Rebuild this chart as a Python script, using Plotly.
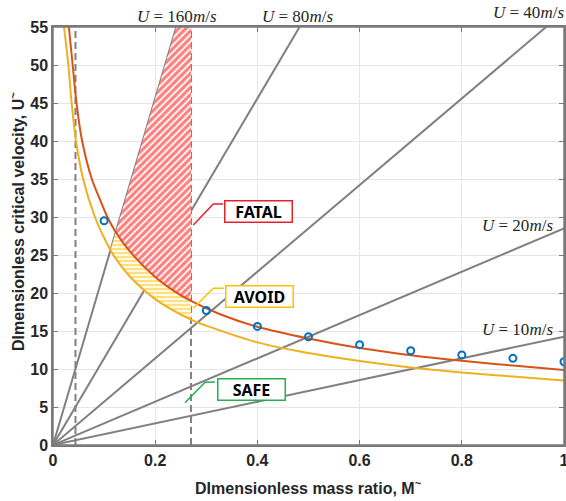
import numpy as np
import plotly.graph_objects as go

# ---------------- data ----------------
red_M = [0.031, 0.0385, 0.046, 0.057, 0.076, 0.092, 0.105, 0.122, 0.15, 0.2,
         0.235, 0.27, 0.327, 0.4, 0.5, 0.6, 0.7, 0.8, 0.9, 1.0]
red_U = [55, 50, 45, 40, 35, 32.3, 30.2, 28.1, 25.5, 22.1,
         20.35, 18.95, 17.2, 15.55, 14.0, 12.75, 11.82, 11.08, 10.45, 9.87]

yellow_M = [0.0215, 0.030, 0.0365, 0.045, 0.059, 0.082, 0.102, 0.12, 0.15, 0.2,
            0.27, 0.3, 0.4, 0.5, 0.6, 0.7, 0.8, 0.9, 1.0]
yellow_U = [55, 50, 45, 40, 35, 30, 27, 24.8, 22.2, 19.2,
            16.5, 15.7, 13.5, 12.1, 11.05, 10.2, 9.55, 9.0, 8.5]

exp_M = [0.1, 0.3, 0.4, 0.5, 0.6, 0.7, 0.8, 0.9, 1.0]
exp_U = [29.5, 17.7, 15.6, 14.25, 13.2, 12.4, 11.85, 11.4, 10.95]

speeds = [160, 80, 40, 20, 10]            # m/s
speed_slopes = [228, 114, 57, 28.5, 14.25]  # U~ per unit M~

dashed_M = [0.044, 0.27]

x_ticks = [0, 0.2, 0.4, 0.6, 0.8, 1]
x_tick_text = ["0", "0.2", "0.4", "0.6", "0.8", "1"]
y_ticks = list(range(0, 56, 5))

X_RANGE = [0, 1]
Y_RANGE = [0, 55]

# ---------------- helpers ----------------
def curve_at(Ms, Us, m):
    return float(np.exp(np.interp(np.log(m), np.log(Ms), np.log(Us))))

def intersect(slope, Ms, Us):
    grid = np.linspace(Ms[0], 1.0, 40001)
    vals = np.exp(np.interp(np.log(grid), np.log(Ms), np.log(Us)))
    diff = slope * grid - vals
    i = int(np.argmax(diff > 0))
    return float(grid[i])

RED = "#D95319"
YEL = "#EDB120"
BLUE = "#0072BD"
GRAY = "#808080"
AXC = "#7a7a7a"

fig = go.Figure()

# gray constant-speed lines
for s, k in zip(speeds, speed_slopes):
    m_end = min(1.0, Y_RANGE[1] / k)
    fig.add_trace(go.Scatter(x=[0, m_end], y=[0, k * m_end], mode="lines",
                             line=dict(color=GRAY, width=2), hoverinfo="skip"))

# dashed vertical lines
for m in dashed_M:
    fig.add_trace(go.Scatter(x=[m, m], y=Y_RANGE, mode="lines",
                             line=dict(color=GRAY, width=2, dash="7px,4px"),
                             hoverinfo="skip"))

# hatched regions
k160 = speed_slopes[0]
m_right = dashed_M[1]
m1 = intersect(k160, red_M, red_U)
m2 = intersect(k160, yellow_M, yellow_U)
mtop = Y_RANGE[1] / k160

# FATAL polygon
fx = [m1, mtop, m_right, m_right]
fy = [curve_at(red_M, red_U, m1), Y_RANGE[1], Y_RANGE[1], curve_at(red_M, red_U, m_right)]
for m, u in reversed(list(zip(red_M, red_U))):
    if m1 < m < m_right:
        fx.append(m); fy.append(u)
fx.append(m1); fy.append(curve_at(red_M, red_U, m1))
fig.add_trace(go.Scatter(x=fx, y=fy, mode="lines", fill="toself",
                         line=dict(width=0, color="rgba(0,0,0,0)"),
                         fillpattern=dict(shape="/", fgcolor="#FF0000", bgcolor="white",
                                          size=5, solidity=0.65),
                         hoverinfo="skip"))

# AVOID polygon
ax_ = [m2, m1]
ay_ = [curve_at(yellow_M, yellow_U, m2), curve_at(red_M, red_U, m1)]
for m, u in zip(red_M, red_U):
    if m1 < m < m_right:
        ax_.append(m); ay_.append(u)
ax_ += [m_right, m_right]
ay_ += [curve_at(red_M, red_U, m_right), curve_at(yellow_M, yellow_U, m_right)]
for m, u in reversed(list(zip(yellow_M, yellow_U))):
    if m2 < m < m_right:
        ax_.append(m); ay_.append(u)
ax_.append(m2); ay_.append(curve_at(yellow_M, yellow_U, m2))
fig.add_trace(go.Scatter(x=ax_, y=ay_, mode="lines", fill="toself",
                         line=dict(width=0, color="rgba(0,0,0,0)"),
                         fillpattern=dict(shape="-", fgcolor="#FFC000", bgcolor="white",
                                          size=4, solidity=0.6),
                         hoverinfo="skip"))

# curves
fig.add_trace(go.Scatter(x=yellow_M, y=yellow_U, mode="lines", line_shape="spline",
                         line=dict(color=YEL, width=2), hoverinfo="skip"))
fig.add_trace(go.Scatter(x=red_M, y=red_U, mode="lines", line_shape="spline",
                         line=dict(color=RED, width=2), hoverinfo="skip"))
fig.add_trace(go.Scatter(x=exp_M, y=exp_U, mode="markers", cliponaxis=False,
                         marker=dict(symbol="circle-open", size=7, color=BLUE,
                                     line=dict(width=2, color=BLUE)),
                         hoverinfo="skip"))

# ---------------- layout ----------------
L, R, T, B = 53, 2, 27, 56
W, H = 566, 501
PW, PH = W - L - R, H - T - B

def px2paper(px, py):
    return (px - L) / PW, (H - B - py) / PH

annotations = []
label_font = dict(family="Liberation Serif", size=17, color="#262626")
label_pos = [(177, 17, "center"), (297, 17, "center"), (566, 12, "right"),
             (555, 225, "right"), (555, 329, "right")]
for s, (px, py, anc) in zip(speeds, label_pos):
    xp, yp = px2paper(px, py)
    annotations.append(dict(x=xp, y=yp, xref="paper", yref="paper",
                            text=f"<i>U</i> = {s}<i>m</i>/<i>s</i>",
                            showarrow=False, font=label_font,
                            xanchor=anc, yanchor="middle"))

# callout boxes
boxes = [("FATAL", (258.5, 211.7), "#E8202A"),
         ("AVOID", (259.5, 296.0), "#FFC000"),
         ("SAFE", (251.0, 389.2), "#22B14C")]
for txt, (px, py), col in boxes:
    xp, yp = px2paper(px, py)
    annotations.append(dict(x=xp, y=yp, xref="paper", yref="paper", text=txt,
                            showarrow=False, width=64, height=18, borderpad=1,
                            bordercolor=col, borderwidth=1.5, bgcolor="white",
                            font=dict(family="Noto Sans", size=16, color="black",
                                      weight="bold"),
                            xanchor="center", yanchor="middle"))

# axis titles
xp, yp = px2paper(308, 487)
annotations.append(dict(x=xp, y=yp, xref="paper", yref="paper",
                        text="DImensionless mass ratio, M<sup>~</sup>", showarrow=False,
                        font=dict(family="Liberation Sans", size=16, color="#262626",
                                  weight="bold"),
                        xanchor="center", yanchor="middle"))
xp, yp = px2paper(17, 222)
annotations.append(dict(x=xp, y=yp, xref="paper", yref="paper", textangle=-90,
                        text="DImensionless critical velocity, U<sup>~</sup>", showarrow=False,
                        font=dict(family="Liberation Sans", size=16, color="#262626",
                                  weight="bold"),
                        xanchor="center", yanchor="middle"))

# leader lines
def data_pt(px, py):
    xp, yp = px2paper(px, py)
    return (X_RANGE[0] + xp * (X_RANGE[1] - X_RANGE[0]),
            Y_RANGE[0] + yp * (Y_RANGE[1] - Y_RANGE[0]))

leaders = [([(193.3, 225), (213.3, 204), (223, 204)], "#E8202A"),
           ([(193.3, 308.3), (213.3, 288.3), (224, 288.3)], "#FFC000"),
           ([(185, 402.7), (205, 382.3), (215, 382)], "#22B14C")]
shapes = []
for pts, col in leaders:
    d = ""
    for i, (px, py) in enumerate(pts):
        x, y = data_pt(px, py)
        d += ("M" if i == 0 else "L") + f"{x:.4f},{y:.4f} "
    shapes.append(dict(type="path", path=d.strip(), xref="x", yref="y",
                       line=dict(color=col, width=1.5)))
# axes box
shapes.append(dict(type="rect", xref="paper", yref="paper", x0=0, x1=1, y0=0, y1=1,
                   line=dict(color=AXC, width=1.5), layer="above"))

axis_common = dict(showline=True, linecolor=AXC, linewidth=1.5, mirror="ticks",
                   ticks="inside", ticklen=5, tickcolor=AXC, tickwidth=1,
                   showgrid=True, gridcolor="#E6E6E6", gridwidth=1, zeroline=False,
                   automargin=False, ticklabeloverflow="allow",
                   tickfont=dict(family="Liberation Sans", size=16, color="#262626",
                                 weight="bold"))

fig.update_layout(
    width=W, height=H,
    margin=dict(l=L, r=R, t=T, b=B, autoexpand=False),
    paper_bgcolor="white", plot_bgcolor="white",
    showlegend=False,
    xaxis=dict(range=X_RANGE, tickvals=x_ticks, ticktext=x_tick_text, **axis_common),
    yaxis=dict(range=Y_RANGE, tickvals=y_ticks, **axis_common),
    annotations=annotations,
    shapes=shapes,
)

fig.write_html("out.html",
               config={"displayModeBar": False},
               post_script="document.body.style.margin='0';"
                           "document.body.style.overflow='hidden';")
